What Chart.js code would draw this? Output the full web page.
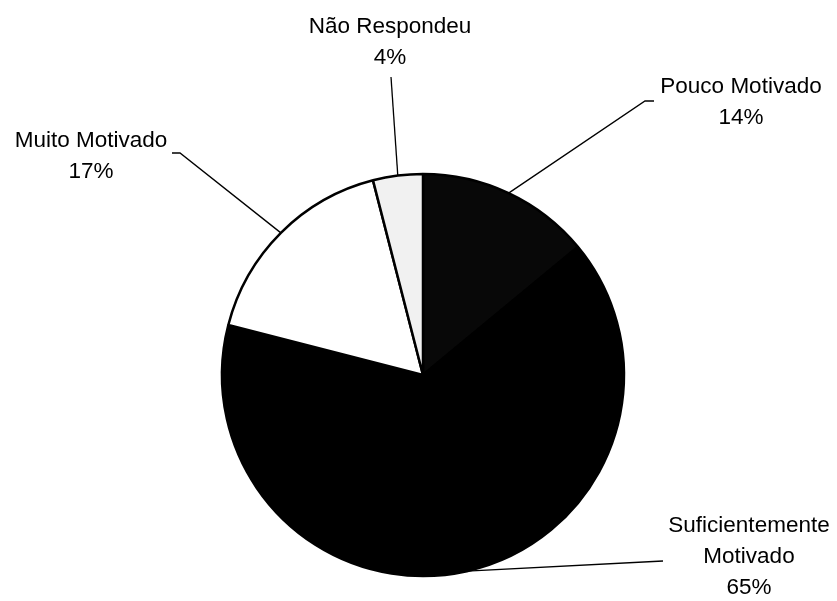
<!DOCTYPE html>
<html>
<head>
    <meta charset="utf-8">
    <script src="https://cdn.jsdelivr.net/npm/chart.js@4.4.0/dist/chart.umd.min.js"></script>
    <style>
        body { margin: 0; padding: 0; background: #fff; }
        #wrap { width: 837px; height: 601px; }
    </style>
</head>
<body>
    <div id="wrap">
        <canvas id="motivacaoChart" width="837" height="601"></canvas>
    </div>

    <script>
        const categorias = ['Pouco Motivado', 'Suficientemente Motivado', 'Muito Motivado', 'Não Respondeu'];
        const percentuais = [14, 65, 17, 4];
        // label lines as drawn (split where the text wraps)
        const rotulos = [
            ['Pouco Motivado'],
            ['Suficientemente', 'Motivado'],
            ['Muito Motivado'],
            ['Não Respondeu']
        ];

        const cores = ['#080808', '#000000', '#ffffff', '#f1f1f1'];

        // where each label sits and where its leader line bends
        const posRotulos = [
            { x: 741, y: 93,  elbow: [[645, 101], [654, 101]] },
            { x: 749, y: 532, elbow: [[663, 561]] },
            { x: 91,  y: 147, elbow: [[180, 153], [172, 153]] },
            { x: 390, y: 33,  elbow: [[391, 77]] }
        ];
        const alturaLinha = 31;

        const rotulosPlugin = {
            id: 'rotulos',
            afterDatasetsDraw(chart) {
                const ctx = chart.ctx;
                const arcs = chart.getDatasetMeta(0).data;
                ctx.save();
                ctx.font = '22.5px "Liberation Sans", Arial, sans-serif';
                ctx.fillStyle = '#000';
                ctx.textAlign = 'center';
                ctx.textBaseline = 'alphabetic';
                arcs.forEach((arc, i) => {
                    const p = arc.getProps(['x', 'y', 'startAngle', 'endAngle', 'outerRadius'], true);
                    const meio = (p.startAngle + p.endAngle) / 2;
                    const x0 = p.x + Math.cos(meio) * p.outerRadius;
                    const y0 = p.y + Math.sin(meio) * p.outerRadius;
                    const pos = posRotulos[i];

                    // leader line
                    ctx.beginPath();
                    ctx.strokeStyle = '#000';
                    ctx.lineWidth = 1.3;
                    ctx.moveTo(x0, y0);
                    pos.elbow.forEach(pt => ctx.lineTo(pt[0], pt[1]));
                    ctx.stroke();

                    const linhas = rotulos[i].concat([percentuais[i] + '%']);
                    linhas.forEach((txt, k) => {
                        ctx.fillText(txt, pos.x, pos.y + k * alturaLinha);
                    });
                });
                ctx.restore();
            }
        };

        new Chart(document.getElementById('motivacaoChart'), {
            type: 'pie',
            data: {
                labels: categorias,
                datasets: [{
                    data: percentuais,
                    backgroundColor: cores,
                    borderColor: '#000',
                    borderWidth: 2.5
                }]
            },
            options: {
                responsive: false,
                animation: false,
                radius: 201,
                layout: { padding: { left: 221, right: 212, top: 173, bottom: 24 } },
                plugins: {
                    legend: { display: false },
                    tooltip: { enabled: false }
                }
            },
            plugins: [rotulosPlugin]
        });
    </script>
</body>
</html>
